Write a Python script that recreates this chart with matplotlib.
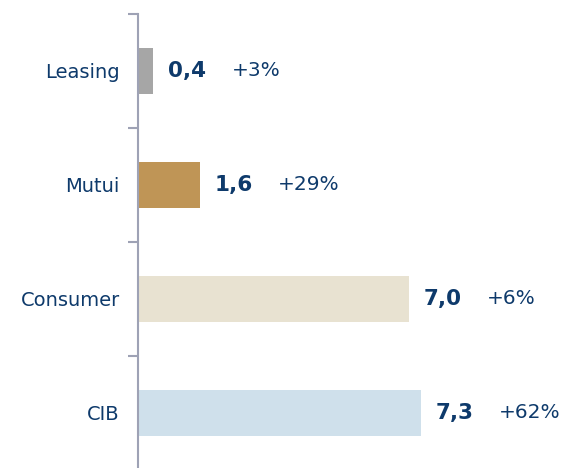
import matplotlib.pyplot as plt
import numpy as np

categories = ['Leasing', 'Mutui', 'Consumer', 'CIB']
values = [0.4, 1.6, 7.0, 7.3]
value_labels = ['0,4', '1,6', '7,0', '7,3']
growth = ['+3%', '+29%', '+6%', '+62%']
colors = ['#A6A6A6', '#BF9556', '#E8E2D1', '#CFE0EB']

text_color = '#0E3A6B'
axis_color = '#9EA2B5'

fig = plt.figure(figsize=(5.63, 4.68), dpi=100)
ax = fig.add_axes([138 / 563, -2 / 468, 1 - 138 / 563, 456 / 468])

y = np.arange(len(categories))
ax.barh(y, values, height=0.41, color=colors)
ax.set_ylim(len(categories) - 0.5, -0.5)
ax.set_xlim(0, (563 - 138) / 38.7)

for i, v in enumerate(values):
    ax.annotate(value_labels[i], (v, i), xytext=(15, 0), textcoords='offset pixels',
                va='center', ha='left', fontsize=15.5, fontweight='bold', color=text_color)
    ax.annotate(growth[i], (v, i), xytext=(78, 0), textcoords='offset pixels',
                va='center', ha='left', fontsize=14.5, color=text_color)

ax.set_yticks(np.arange(-0.5, len(categories), 1.0))
ax.set_yticklabels([])
ax.set_yticks(y, minor=True)
ax.set_yticklabels(categories, minor=True, fontsize=14, color=text_color)
ax.tick_params(axis='y', which='major', length=7, width=1.5, color=axis_color)
ax.tick_params(axis='y', which='minor', length=0, pad=13)
ax.set_xticks([])

for s in ['top', 'right', 'bottom']:
    ax.spines[s].set_visible(False)
ax.spines['left'].set_color(axis_color)
ax.spines['left'].set_linewidth(1.5)

fig.savefig('out.png', dpi=100)
